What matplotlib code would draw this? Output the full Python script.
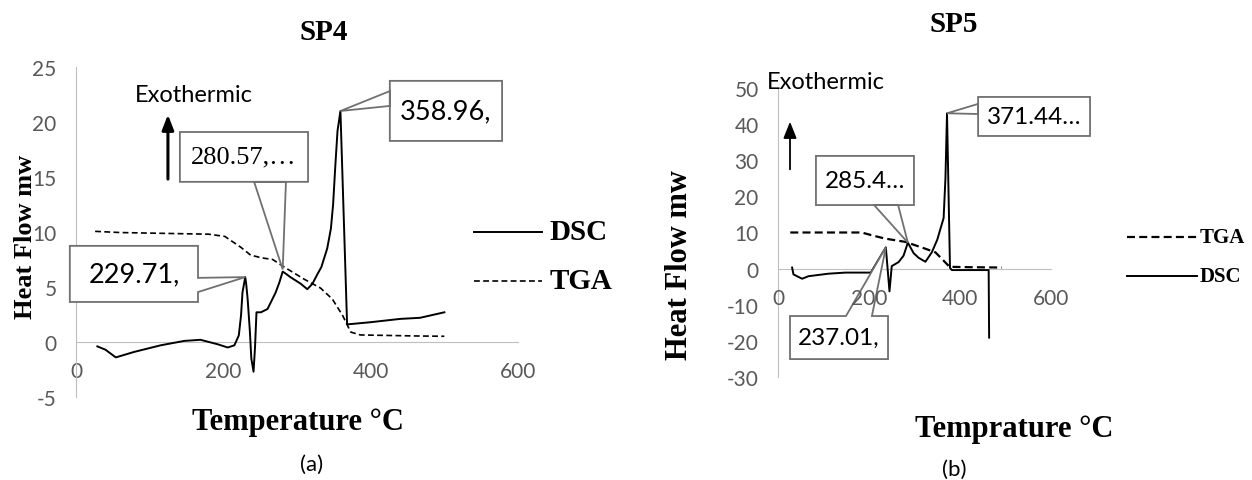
import numpy as np
import matplotlib
matplotlib.use("Agg")
import matplotlib.pyplot as plt
from matplotlib.patches import Polygon

plt.rcParams['font.family'] = ['Lato', 'DejaVu Sans']
plt.rcParams['axes.unicode_minus'] = False

# ---- data ----
# SP4
dsc4_t = [29, 40, 54, 79, 115, 147, 169, 192, 206, 215, 221, 224, 226, 229.71, 231, 233, 236, 238,
          241, 243, 245, 251, 260, 271, 276, 280.57, 285, 291, 305, 314, 321, 328, 333, 341, 346,
          349, 352, 355, 358.96, 368, 400, 440, 467, 500]
dsc4_v = [-0.4, -0.7, -1.4, -0.9, -0.3, 0.1, 0.2, -0.2, -0.5, -0.3, 0.6, 2.4, 4.5, 5.9, 5.3, 3.9, 1.0,
          -1.5, -2.7, -0.5, 2.7, 2.7, 3.0, 4.5, 5.4, 6.4, 6.2, 5.9, 5.3, 4.8, 5.3, 6.2, 6.8, 8.5,
          10.3, 12.5, 16.0, 19.2, 21.0, 1.6, 1.8, 2.1, 2.2, 2.7]
tga4_t = [26, 60, 100, 140, 180, 202, 224, 237, 252, 267, 283, 310, 332, 348, 362, 373, 386, 420, 460, 500]
tga4_v = [10.06, 9.95, 9.9, 9.85, 9.8, 9.6, 8.6, 7.9, 7.65, 7.5, 6.8, 5.7, 4.9, 3.9, 2.4, 0.9, 0.64,
          0.6, 0.55, 0.52]

# SP5
dsc5_t = [31, 34, 53, 67, 111, 148, 204, 237.01, 245, 250, 265, 276, 285.4, 298, 309, 324, 338, 350,
          364, 368, 371.44, 378, 382, 463, 464]
dsc5_v = [0.3, -1.6, -2.8, -2.1, -1.4, -1.1, -1.1, 5.9, -6.3, 0.7, 1.8, 3.6, 7.2, 4.3, 3.0, 1.9, 4.5,
          8.0, 14.0, 25.0, 43.0, 0.2, -0.4, -0.4, -19.1]
tga5_t = [27, 100, 184, 207, 236, 280, 324, 346, 364, 377, 420, 492]
tga5_v = [10.0, 10.0, 10.0, 9.2, 8.3, 7.4, 5.5, 4.5, 2.2, 0.5, 0.4, 0.3]

x_ticks = [0, 200, 400, 600]
y4_ticks = [-5, 0, 5, 10, 15, 20, 25]
y5_ticks = [-30, -20, -10, 0, 10, 20, 30, 40, 50]

W, H = 1252, 481
fig = plt.figure(figsize=(W / 100, H / 100), dpi=100)


def add_ax(l, r, t, b):
    return fig.add_axes([l / W, 1 - b / H, (r - l) / W, (b - t) / H])


def excel_style(ax, yticks):
    for s in ['top', 'right']:
        ax.spines[s].set_visible(False)
    ax.spines['left'].set_color('#BFBFBF')
    ax.spines['bottom'].set_color('#BFBFBF')
    ax.spines['bottom'].set_position(('data', 0))
    ax.set_xlim(0, 600)
    ax.set_ylim(yticks[0], yticks[-1])
    ax.set_xticks(x_ticks)
    ax.set_yticks(yticks)
    ax.tick_params(length=0, labelsize=15, labelcolor='#595959', pad=14)
    ax.set_facecolor('none')


def callout(ax, text, tip, box, side, base, size, family='Lato'):
    x0, y0, x1, y1 = box
    tx, ty = ax.transAxes.inverted().transform(ax.transData.transform(tip))
    a, b = base
    if side == 'right':
        pts = [(x0, y0), (x0, y1), (x1, y1), (x1, a), (tx, ty), (x1, b), (x1, y0)]
    elif side == 'left':
        pts = [(x0, y0), (x0, b), (tx, ty), (x0, a), (x0, y1), (x1, y1), (x1, y0)]
    elif side == 'bottom':
        pts = [(x0, y0), (x0, y1), (x1, y1), (x1, y0), (b, y0), (tx, ty), (a, y0)]
    else:
        pts = [(x0, y0), (x0, y1), (a, y1), (tx, ty), (b, y1), (x1, y1), (x1, y0)]
    ax.add_patch(Polygon(pts, closed=True, facecolor='white', edgecolor='#707070', lw=1.3,
                         transform=ax.transAxes, clip_on=False, zorder=4))
    ax.text((x0 + x1) / 2, (y0 + y1) / 2, text, transform=ax.transAxes, ha='center', va='center',
            fontsize=size, family=family, color='black', zorder=5)


serif = 'Liberation Serif'

# ---------------- SP4 ----------------
ax1 = add_ax(76, 518, 68, 398)
excel_style(ax1, y4_ticks)
ax1.plot(dsc4_t, dsc4_v, color='black', lw=1.4, zorder=3)
ax1.plot(tga4_t, tga4_v, color='black', lw=1.2, linestyle=(0, (3.5, 2)), zorder=3)

callout(ax1, '229.71,', (229.71, 5.9), (-0.014, 0.288, 0.276, 0.458), 'right', (0.361, 0.318), 19.5)
callout(ax1, '280.57,…', (280.57, 6.6), (0.235, 0.652, 0.525, 0.803), 'bottom', (0.475, 0.403), 19, serif)
callout(ax1, '358.96,', (358.96, 21.0), (0.710, 0.776, 0.964, 0.958), 'left', (0.882, 0.927), 19.5)

ax1.text(0.267, 0.918, 'Exothermic', transform=ax1.transAxes, ha='center', va='center', fontsize=17)
ax1.annotate('', xy=(0.208, 0.864), xytext=(0.208, 0.652), xycoords='axes fraction',
             arrowprops=dict(arrowstyle='-|>,head_width=0.35,head_length=0.9', color='black', lw=2.2))

# legend
ax1.plot([0.900, 1.054], [0.5, 0.5], transform=ax1.transAxes, color='black', lw=1.4, clip_on=False)
ax1.plot([0.900, 1.054], [0.352, 0.352], transform=ax1.transAxes, color='black', lw=1.2,
         linestyle=(0, (3.5, 2)), clip_on=False)
ax1.text(1.072, 0.5, 'DSC', transform=ax1.transAxes, va='center', fontsize=21, family=serif, weight='bold')
ax1.text(1.072, 0.352, 'TGA', transform=ax1.transAxes, va='center', fontsize=21, family=serif, weight='bold')

fig.text(324 / W, 1 - 33 / H, 'SP4', ha='center', va='center', fontsize=21, family=serif, weight='bold')
fig.text(298 / W, 1 - 423 / H, 'Temperature °C', ha='center', va='center', fontsize=22, family=serif,
         weight='bold')
fig.text(26 / W, 1 - 237 / H, 'Heat Flow mw', ha='center', va='center', rotation=90, fontsize=19,
         family=serif, weight='bold')
fig.text(312 / W, 1 - 465 / H, '(a)', ha='center', va='center', fontsize=16)

# ---------------- SP5 ----------------
ax2 = add_ax(778, 1051, 89, 378)
excel_style(ax2, y5_ticks)
ax2.xaxis.set_zorder(6)
ax2.plot(dsc5_t, dsc5_v, color='black', lw=1.4, zorder=3)
ax2.plot(tga5_t, tga5_v, color='black', lw=1.6, linestyle=(0, (3.6, 1.9)), zorder=3)

callout(ax2, '371.44…', (371.44, 43.0), (0.733, 0.834, 1.143, 0.969), 'left', (0.910, 0.945), 17.5)
callout(ax2, '285.4…', (285.4, 7.2), (0.139, 0.595, 0.498, 0.765), 'bottom', (0.440, 0.352), 17.5)
callout(ax2, '237.01,', (237.01, 5.9), (0.044, 0.062, 0.403, 0.211), 'top', (0.249, 0.344), 17.5)

ax2.text(0.176, 1.021, 'Exothermic', transform=ax2.transAxes, ha='center', va='center', fontsize=17)
ax2.annotate('', xy=(0.044, 0.893), xytext=(0.044, 0.709), xycoords='axes fraction',
             arrowprops=dict(arrowstyle='-|>,head_width=0.4,head_length=1.0', color='black', lw=1.3))

ax2.plot([1.278, 1.535], [0.484, 0.484], transform=ax2.transAxes, color='black', lw=1.6,
         linestyle=(0, (3.6, 1.9)), clip_on=False)
ax2.plot([1.278, 1.535], [0.349, 0.349], transform=ax2.transAxes, color='black', lw=1.4, clip_on=False)
ax2.text(1.546, 0.484, 'TGA', transform=ax2.transAxes, va='center', fontsize=15, family=serif, weight='bold')
ax2.text(1.546, 0.349, 'DSC', transform=ax2.transAxes, va='center', fontsize=15, family=serif, weight='bold')

fig.text(954 / W, 1 - 25 / H, 'SP5', ha='center', va='center', fontsize=21, family=serif, weight='bold')
fig.text(1014 / W, 1 - 430 / H, 'Temprature °C', ha='center', va='center', fontsize=22, family=serif,
         weight='bold')
fig.text(680 / W, 1 - 265 / H, 'Heat Flow mw', ha='center', va='center', rotation=90, fontsize=22,
         family=serif, weight='bold')
fig.text(954 / W, 1 - 470 / H, '(b)', ha='center', va='center', fontsize=16)

fig.savefig('out.png', dpi=100)
